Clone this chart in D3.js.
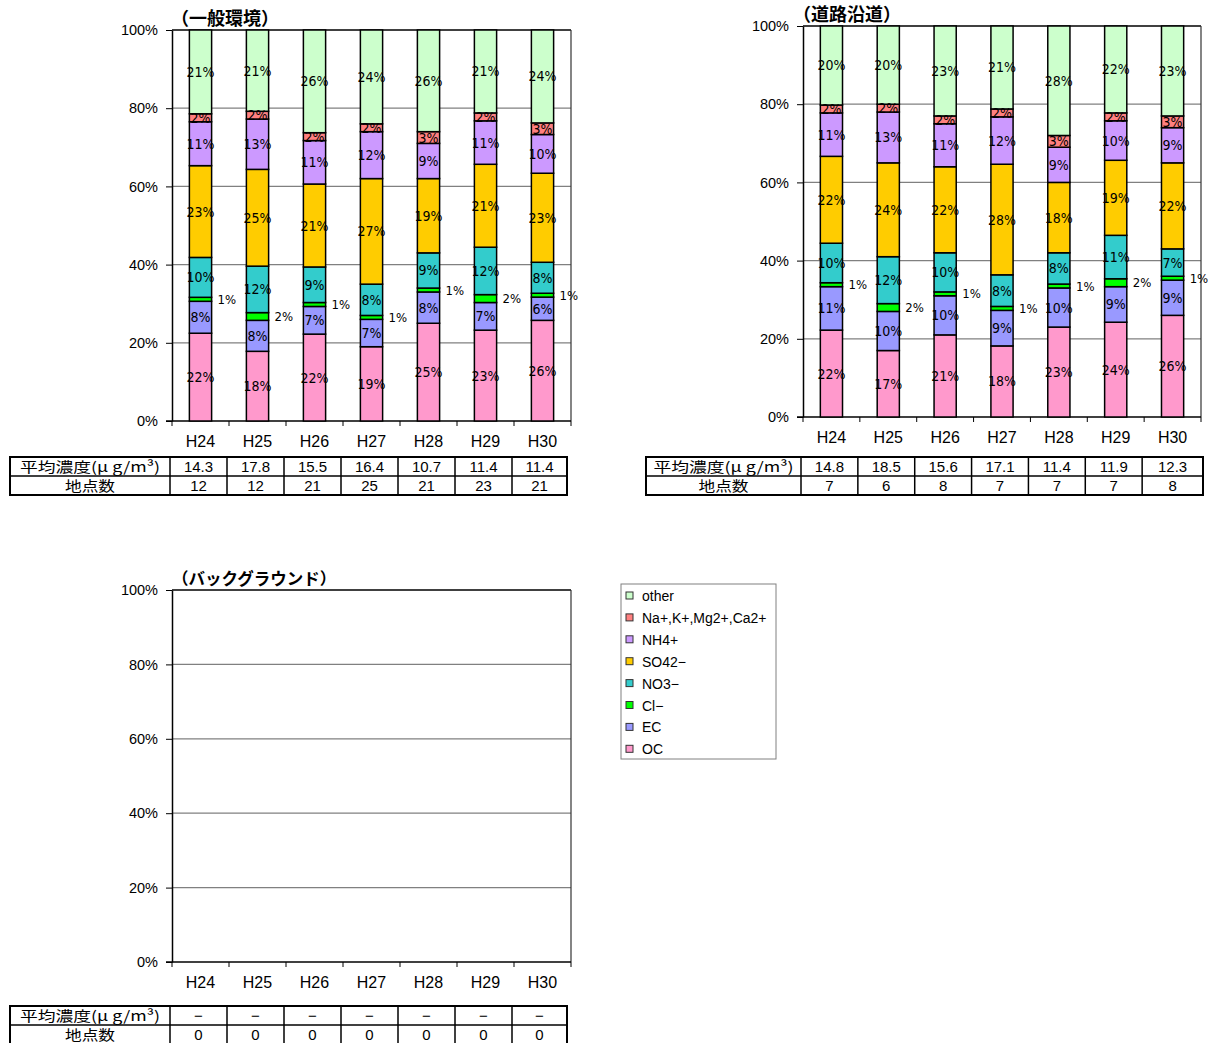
<!DOCTYPE html>
<html>
<head>
<meta charset="utf-8">
<script src="https://cdn.jsdelivr.net/npm/d3@7"></script>
<style>
  html, body { margin: 0; padding: 0; background: #fff; }
  svg { display: block; }
</style>
</head>
<body>
<svg id="chart" width="1208" height="1043"></svg>
<script>
// Fiscal years (Heisei)
const years = ["H24", "H25", "H26", "H27", "H28", "H29", "H30"];

// Component keys, bottom to top of each stack
const components = ["OC", "EC", "Cl", "NO3", "SO4", "NH4", "cation", "other"];
const componentNames = ["OC", "EC", "Cl−", "NO3−", "SO42−", "NH4+", "Na+,K+,Mg2+,Ca2+", "other"];

// General environment sites: composition (%)
const generalOC     = [22, 18, 22, 19, 25, 23, 26];
const generalEC     = [8, 8, 7, 7, 8, 7, 6];
const generalCl     = [1, 2, 1, 1, 1, 2, 1];
const generalNO3    = [10, 12, 9, 8, 9, 12, 8];
const generalSO4    = [23, 25, 21, 27, 19, 21, 23];
const generalNH4    = [11, 13, 11, 12, 9, 11, 10];
const generalCation = [2, 2, 2, 2, 3, 2, 3];
const generalOther  = [21, 21, 26, 24, 26, 21, 24];
const generalMean   = ["14.3", "17.8", "15.5", "16.4", "10.7", "11.4", "11.4"];
const generalSites  = ["12", "12", "21", "25", "21", "23", "21"];

// Roadside sites: composition (%)
const roadOC     = [22, 17, 21, 18, 23, 24, 26];
const roadEC     = [11, 10, 10, 9, 10, 9, 9];
const roadCl     = [1, 2, 1, 1, 1, 2, 1];
const roadNO3    = [10, 12, 10, 8, 8, 11, 7];
const roadSO4    = [22, 24, 22, 28, 18, 19, 22];
const roadNH4    = [11, 13, 11, 12, 9, 10, 9];
const roadCation = [2, 2, 2, 2, 3, 2, 3];
const roadOther  = [20, 20, 23, 21, 28, 22, 23];
const roadMean   = ["14.8", "18.5", "15.6", "17.1", "11.4", "11.9", "12.3"];
const roadSites  = ["7", "6", "8", "7", "7", "7", "8"];

// Background sites: no measurements
const backgroundMean  = ["−", "−", "−", "−", "−", "−", "−"];
const backgroundSites = ["0", "0", "0", "0", "0", "0", "0"];

// Y-axis ticks
const yTicks = [0, 0.2, 0.4, 0.6, 0.8, 1.0];

const colors = {
  OC: "#FF99CC", EC: "#9999FF", Cl: "#00FF00", NO3: "#33CCCC",
  SO4: "#FFCC00", NH4: "#CC99FF", cation: "#FF8080", other: "#CCFFCC"
};

const JP = "'Noto Sans CJK JP', 'Noto Sans', sans-serif";
const NUM = "'Liberation Sans', Arial, sans-serif";
const NARROW = "'Liberation Sans Narrow', 'DejaVu Sans Condensed', 'Liberation Sans', sans-serif";

function rows(cols) {
  return years.map((y, i) => {
    const r = { year: y };
    components.forEach((k, j) => { r[k] = cols[j][i]; });
    return r;
  });
}

const svg = d3.select("#chart");

function drawPanel(p) {
  const g = svg.append("g");
  const x = d3.scaleBand().domain(years).range([p.left, p.right]).paddingInner(0.61).paddingOuter(0.305);
  const xCat = d3.scaleBand().domain(years).range([p.left, p.right]);
  const y = d3.scaleLinear().domain([0, 1]).range([p.bottom, p.top]);

  // gridlines
  g.selectAll(".grid").data(yTicks.filter(t => t > 0 && t < 1)).join("line")
    .attr("x1", p.left).attr("x2", p.right)
    .attr("y1", d => y(d)).attr("y2", d => y(d))
    .attr("stroke", "#808080").attr("stroke-width", 1.2);
  // plot frame
  g.append("line").attr("x1", p.left).attr("x2", p.right).attr("y1", y(1)).attr("y2", y(1))
    .attr("stroke", "#000").attr("stroke-width", 1.5);
  g.append("line").attr("x1", p.right).attr("x2", p.right).attr("y1", y(1)).attr("y2", y(0))
    .attr("stroke", "#333").attr("stroke-width", 1.2);

  // y axis
  const yAxis = d3.axisLeft(y).tickValues(yTicks).tickFormat(d3.format(".0%")).tickSizeInner(6).tickSizeOuter(0).tickPadding(8);
  const ya = g.append("g").attr("transform", `translate(${p.left},0)`).call(yAxis);
  ya.select(".domain").attr("stroke", "#000").attr("stroke-width", 1.5);
  ya.selectAll(".tick line").attr("stroke", "#000");
  ya.selectAll("text").attr("font-family", NUM).attr("font-size", 14.5).attr("fill", "#000");

  // x axis: ticks at category boundaries, labels centred
  g.append("line").attr("x1", p.left - 6).attr("x2", p.right).attr("y1", y(0)).attr("y2", y(0))
    .attr("stroke", "#000").attr("stroke-width", 1.5);
  const bounds = years.map(d => xCat(d)).concat([p.right]);
  g.selectAll(".xt").data(bounds).join("line")
    .attr("x1", d => d).attr("x2", d => d).attr("y1", y(0)).attr("y2", y(0) + 5)
    .attr("stroke", "#000").attr("stroke-width", 1);
  g.selectAll(".xl").data(years).join("text")
    .attr("x", d => xCat(d) + xCat.bandwidth() / 2).attr("y", y(0) + 26)
    .attr("text-anchor", "middle").attr("font-family", NUM).attr("font-size", 16)
    .text(d => d);

  // title
  g.append("text").attr("x", p.titleX).attr("y", p.top - 5)
    .attr("font-family", JP).attr("font-weight", "bold").attr("font-size", p.titleSize)
    .text(p.title);

  // stacked bars
  if (p.data) {
    const series = d3.stack().keys(components).offset(d3.stackOffsetExpand)(p.data);
    const layer = g.selectAll(".layer").data(series).join("g").attr("fill", d => colors[d.key]);
    layer.selectAll("rect").data(d => d).join("rect")
      .attr("x", d => x(d.data.year)).attr("width", x.bandwidth())
      .attr("y", d => y(d[1])).attr("height", d => y(d[0]) - y(d[1]))
      .attr("stroke", "#000").attr("stroke-width", 1.5);

    series.forEach(s => {
      s.forEach(d => {
        const val = d.data[s.key];
        const cy = (y(d[0]) + y(d[1])) / 2;
        if (s.key === "Cl") {
          g.append("text").attr("x", x(d.data.year) + x.bandwidth() + 6).attr("y", cy + 4.5)
            .attr("font-family", NARROW).attr("font-size", 13).text(val + "%");
        } else {
          g.append("text").attr("x", x(d.data.year) + x.bandwidth() / 2).attr("y", cy + 5)
            .attr("text-anchor", "middle").attr("font-family", NARROW).attr("font-size", 14)
            .text(val + "%");
        }
      });
    });
  }

  // table below
  const t = g.append("g");
  const rowH = 19;
  const top = p.tableTop;
  t.append("rect").attr("x", p.tableLeft).attr("y", top).attr("width", p.tableRight - p.tableLeft).attr("height", rowH * 2)
    .attr("fill", "none").attr("stroke", "#000").attr("stroke-width", 2);
  t.append("line").attr("x1", p.tableLeft).attr("x2", p.tableRight).attr("y1", top + rowH).attr("y2", top + rowH)
    .attr("stroke", "#000").attr("stroke-width", 1.5);
  const colEdges = years.map(d => xCat(d) - 2);
  t.selectAll(".cv").data(colEdges).join("line")
    .attr("x1", d => d).attr("x2", d => d).attr("y1", top).attr("y2", top + rowH * 2)
    .attr("stroke", "#000").attr("stroke-width", 1.5);
  const labelX = (p.tableLeft + colEdges[0]) / 2;
  t.append("text").attr("x", labelX).attr("y", top + 14.5).attr("text-anchor", "middle")
    .attr("font-family", JP).attr("font-size", 14)
    .attr("textLength", 140).attr("lengthAdjust", "spacingAndGlyphs")
    .text("平均濃度(μ g/m³)");
  t.append("text").attr("x", labelX).attr("y", top + rowH + 14.5).attr("text-anchor", "middle")
    .attr("font-family", JP).attr("font-size", 14)
    .attr("textLength", 50).attr("lengthAdjust", "spacingAndGlyphs")
    .text("地点数");
  const cellCx = years.map((d, i) => ((colEdges[i]) + (i < years.length - 1 ? colEdges[i + 1] : p.tableRight)) / 2);
  t.selectAll(".m").data(p.mean).join("text")
    .attr("x", (d, i) => cellCx[i]).attr("y", top + 15).attr("text-anchor", "middle")
    .attr("font-family", NUM).attr("font-size", 15).text(d => d);
  t.selectAll(".s").data(p.sites).join("text")
    .attr("x", (d, i) => cellCx[i]).attr("y", top + rowH + 15).attr("text-anchor", "middle")
    .attr("font-family", NUM).attr("font-size", 15).text(d => d);
}

drawPanel({
  title: "（一般環境）", titleX: 171, titleSize: 18,
  left: 172, right: 571, top: 30, bottom: 421,
  data: rows([generalOC, generalEC, generalCl, generalNO3, generalSO4, generalNH4, generalCation, generalOther]),
  tableLeft: 10, tableRight: 567, tableTop: 457,
  mean: generalMean, sites: generalSites
});

drawPanel({
  title: "（道路沿道）", titleX: 793, titleSize: 18,
  left: 803, right: 1201, top: 26, bottom: 417,
  data: rows([roadOC, roadEC, roadCl, roadNO3, roadSO4, roadNH4, roadCation, roadOther]),
  tableLeft: 646, tableRight: 1203, tableTop: 457,
  mean: roadMean, sites: roadSites
});

drawPanel({
  title: "（バックグラウンド）", titleX: 172, titleSize: 16.5,
  left: 172, right: 571, top: 590, bottom: 962,
  data: null,
  tableLeft: 10, tableRight: 567, tableTop: 1006,
  mean: backgroundMean, sites: backgroundSites
});

// legend
const lg = svg.append("g").attr("transform", "translate(621,584)");
lg.append("rect").attr("width", 155).attr("height", 175).attr("fill", "#fff")
  .attr("stroke", "#808080").attr("stroke-width", 1);
const legendOrder = components.map((k, i) => ({ key: k, name: componentNames[i] })).reverse();
const li = lg.selectAll(".li").data(legendOrder).join("g")
  .attr("transform", (d, i) => `translate(5,${12 + i * 21.9})`);
li.append("rect").attr("x", 0).attr("y", -4).attr("width", 7).attr("height", 7)
  .attr("fill", d => colors[d.key]).attr("stroke", "#333").attr("stroke-width", 1);
li.append("text").attr("x", 16).attr("y", 5).attr("font-family", NUM).attr("font-size", 14)
  .text(d => d.name);
</script>
</body>
</html>
